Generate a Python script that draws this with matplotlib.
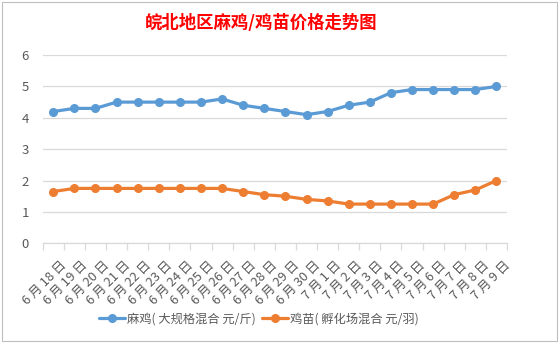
import matplotlib
matplotlib.use('Agg')
import matplotlib.pyplot as plt
from matplotlib.patches import Rectangle
from matplotlib.transforms import ScaledTranslation

plt.rcParams['font.family'] = ['Noto Sans CJK SC', 'DejaVu Sans']

dates = ['6月18日', '6月19日', '6月20日', '6月21日', '6月22日', '6月23日', '6月24日',
         '6月25日', '6月26日', '6月27日', '6月28日', '6月29日', '6月30日', '7月1日',
         '7月2日', '7月3日', '7月4日', '7月5日', '7月6日', '7月7日', '7月8日', '7月9日']
maji = [4.2, 4.3, 4.3, 4.5, 4.5, 4.5, 4.5, 4.5, 4.6, 4.4, 4.3,
        4.2, 4.1, 4.2, 4.4, 4.5, 4.8, 4.9, 4.9, 4.9, 4.9, 5.0]
jimiao = [1.65, 1.75, 1.75, 1.75, 1.75, 1.75, 1.75, 1.75, 1.75, 1.65, 1.55,
          1.5, 1.4, 1.35, 1.25, 1.25, 1.25, 1.25, 1.25, 1.55, 1.7, 2.0]
yticks = [0, 1, 2, 3, 4, 5, 6]

title = '皖北地区麻鸡/鸡苗价格走势图'
label_maji = '麻鸡( 大规格混合 元/斤)'
label_jimiao = '鸡苗( 孵化场混合 元/羽)'

fig = plt.figure(figsize=(5.59, 3.44), dpi=100)
fig.patches.append(Rectangle((0.004, 0.01), 0.992, 0.985, transform=fig.transFigure,
                             fill=False, edgecolor='#BFBFBF', linewidth=0.8))

ax = fig.add_axes([0.0764, 0.2927, 0.8306, 0.5473])
x = range(len(dates))
ax.plot(x, maji, color='#5B9BD5', linewidth=2.3, marker='o', markersize=5.5,
        label=label_maji, solid_capstyle='round')
ax.plot(x, jimiao, color='#ED7D31', linewidth=2.3, marker='o', markersize=5.5,
        label=label_jimiao, solid_capstyle='round')

ax.set_xlim(-0.5, len(dates) - 0.5)
ax.set_ylim(0, 6)
ax.set_yticks(yticks)
ax.tick_params(axis='y', length=0, labelsize=9.5, labelcolor='#595959', pad=10)
ax.grid(axis='y', color='#D9D9D9', linewidth=0.9)
ax.set_axisbelow(True)

for s in ['top', 'right', 'left']:
    ax.spines[s].set_visible(False)
ax.spines['bottom'].set_color('#D9D9D9')
ax.spines['bottom'].set_linewidth(0.9)

# ticks sit between categories, labels at category centres
ax.set_xticks([i - 0.5 for i in range(len(dates) + 1)], minor=False)
ax.set_xticklabels([])
ax.tick_params(axis='x', which='major', length=5, color='#D9D9D9', width=0.9)
ax.set_xticks(list(x), minor=True)
# excel spaces the digits away from the CJK glyphs
shown = [d.replace('月', ' 月 ').replace('日', ' 日') for d in dates]
ax.set_xticklabels(shown, minor=True, rotation=45, ha='right', va='top',
                   fontsize=9.3, color='#595959')
ax.tick_params(axis='x', which='minor', length=0, pad=11)
shift = ScaledTranslation(16 / 100, 0, fig.dpi_scale_trans)
for lbl in ax.get_xticklabels(minor=True):
    lbl.set_transform(lbl.get_transform() + shift)

fig.text(0.467, 0.933, title, color='#FF0000', fontsize=12.5, fontweight='bold',
         ha='center', va='center')

fig.legend(loc='center', bbox_to_anchor=(0.463, 0.073), ncol=2, frameon=False,
           fontsize=8.8, labelcolor='#595959', handlelength=2.1, columnspacing=0.5,
           handletextpad=0.2)

fig.savefig('out.png', dpi=100)
